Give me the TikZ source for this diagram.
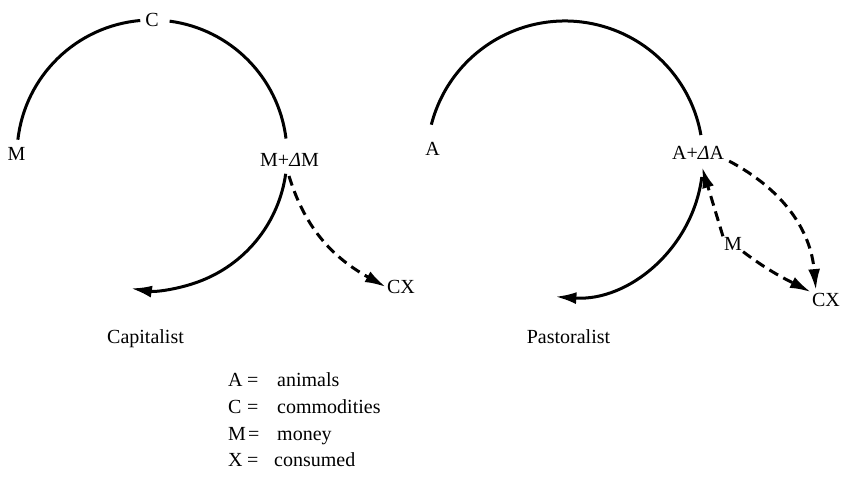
\documentclass[tikz,border=0pt]{standalone}
\usepackage{fontspec}
\setmainfont{Liberation Serif}
\usetikzlibrary{arrows.meta}
\begin{document}
\begin{tikzpicture}[x=1pt,y=1pt,
  lbl/.style={font=\fontsize{20}{24}\selectfont, inner sep=1pt},
  solidline/.style={line width=3pt},
  dashline/.style={line width=3pt, dash pattern=on 10pt off 6pt},
  tipend/.style={-{Latex[length=21pt,width=12pt]}}]
\useasboundingbox (0,0) rectangle (842,478);

% ---------------- Capitalist ----------------
\coordinate (cL) at (152,323);
\draw[solidline] (cL) ++(173.5:135) arc[start angle=173.5,end angle=95,radius=135];
\draw[solidline] (cL) ++(82.5:135) arc[start angle=82.5,end angle=7,radius=135];
\draw[solidline,tipend] (cL) ++(-8:135) arc[start angle=-8,end angle=-99,radius=135];

\node[lbl] (C) at (152,458) {C};
\node[lbl] (M) at (16.5,324) {M};
\node[lbl] (MdM) at (289.5,318.5) {M+{\itshape Δ}M};
\node[lbl] (CX1) at (401,191) {CX};
\coordinate (j1) at (289,302);
\draw[dashline,tipend] (j1) to[out=-73,in=151] (CX1.west);

\node[lbl,anchor=base] (cap) at (145.5,134) {Capitalist};

% ---------------- Pastoralist ----------------
\coordinate (cR) at (565,319);
\draw[solidline] (cR) ++(165.6:138) arc[start angle=165.6,end angle=10,radius=138];
\draw[solidline,tipend] (cR) ++(-7.5:138) arc[start angle=-7.5,end angle=-94,radius=138];

\node[lbl] (A) at (432.5,329.5) {A};
\node[lbl] (AdA) at (698,324.7) {A+{\itshape Δ}A};
\node[lbl] (M2) at (733,234) {M};
\node[lbl] (CX2) at (826,178) {CX};
\coordinate (j2) at (702,311);
\draw[dashline,tipend] (M2.north west) -- (j2);
\draw[dashline,tipend] (M2.south east) to[out=-37,in=153] (CX2.north west);
\draw[dashline,tipend] ([xshift=4pt]AdA.south east) to[out=-28,in=95] ([xshift=5pt,yshift=2pt]CX2.north west);

\node[lbl,anchor=base] (past) at (568.5,134) {Pastoralist};

% ---------------- Legend ----------------
\node[lbl,anchor=base west] (kA) at (227,91) {A};
\node[lbl,anchor=base west] (eA) at (246,91) {=};
\node[lbl,anchor=base west] (wA) at (276,91) {animals};
\node[lbl,anchor=base west] (kC) at (227,64) {C};
\node[lbl,anchor=base west] (eC) at (246,64) {=};
\node[lbl,anchor=base west] (wC) at (276,64) {commodities};
\node[lbl,anchor=base west] (kM) at (227,37) {M};
\node[lbl,anchor=base west] (eM) at (247,37) {=};
\node[lbl,anchor=base west] (wM) at (276,37) {money};
\node[lbl,anchor=base west] (kX) at (227,11) {X};
\node[lbl,anchor=base west] (eX) at (246,11) {=};
\node[lbl,anchor=base west] (wX) at (273,11) {consumed};
\end{tikzpicture}
\end{document}
